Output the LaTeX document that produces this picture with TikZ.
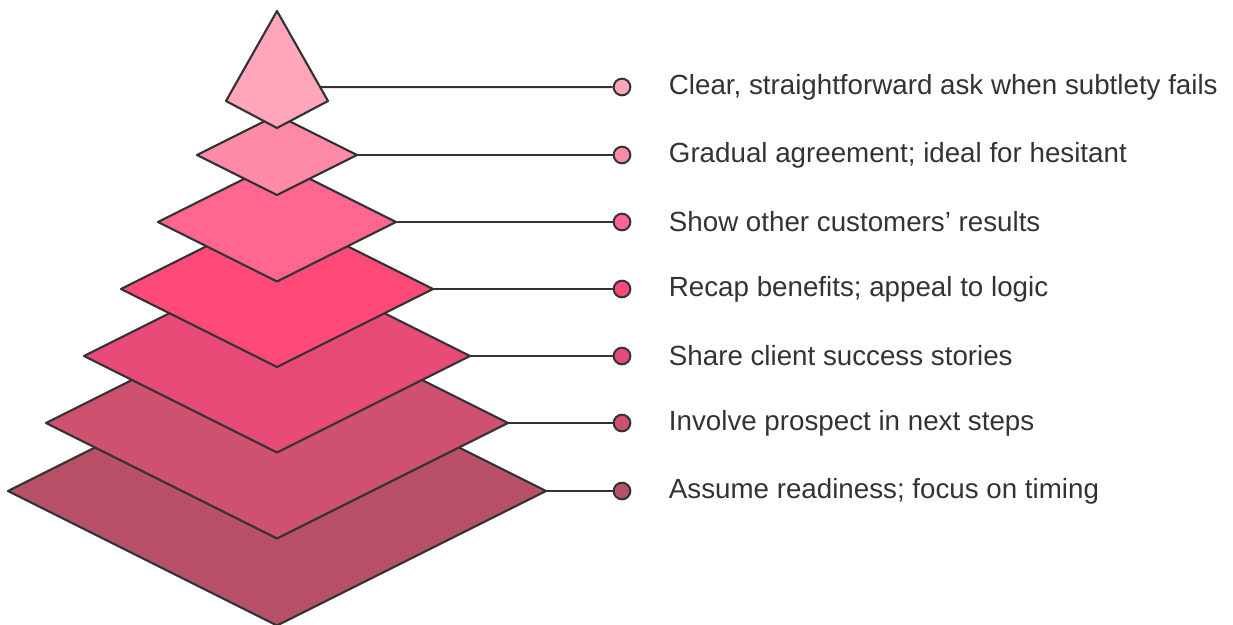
\documentclass[tikz,border=0pt]{standalone}
\usepackage{fontspec}
\setmainfont{Liberation Sans}
\usetikzlibrary{positioning,calc}

\definecolor{my_ink}{RGB}{51, 51, 51}
\definecolor{lay1}{HTML}{FFA6BB}
\definecolor{lay2}{HTML}{FF8AA8}
\definecolor{lay3}{HTML}{FF6690}
\definecolor{lay4}{HTML}{FF4A78}
\definecolor{lay5}{HTML}{E84A78}
\definecolor{lay6}{HTML}{D05070}
\definecolor{lay7}{HTML}{B85068}

\tikzset{
  layer/.style = {draw=my_ink, line width=1.6pt, line join=round},
  dot/.style = {circle, draw=my_ink, line width=1.5pt, minimum size=12.5pt, inner sep=0pt},
  link/.style = {draw=my_ink, line width=1.5pt},
  tip/.style = {anchor=west, inner sep=0pt, text=my_ink, font=\fontsize{20.8}{24}\selectfont}
}

\begin{document}
\begin{tikzpicture}[x=0.75pt, y=-0.75pt]
    \useasboundingbox (0,0) rectangle (1233,625);
    % widest slab first, so every slab above lies on top of it
    \foreach \n/\y/\w/\c in {7/491/269/lay7, 6/423/231/lay6, 5/356/193/lay5,
                             4/289/156/lay4, 3/222/119/lay3, 2/155/80/lay2}{
        \draw[layer, fill=\c] (277-\w,\y) -- (277,\y-\w/2) -- (277+\w,\y) -- (277,\y+\w/2) -- cycle;
        \coordinate (r\n) at (277+\w,\y);
        \node[dot, fill=\c] (d\n) at (622,\y) {};
        \draw[link] (r\n) -- (d\n);
    }
    % the tip of the pyramid
    \draw[layer, fill=lay1] (277,11) coordinate (apex) -- (328,101) coordinate (kr)
        -- (277,128) -- (226,101) -- cycle;
    \coordinate (r1) at ($(apex)!0.845!(kr)$);
    \node[dot, fill=lay1] (d1) at (622,87) {};
    \draw[link] (r1) -- (d1);

    \node[tip, right=28pt of d1] (t1) {Clear, straightforward ask when subtlety fails};
    \node[tip, right=28pt of d2] (t2) {Gradual agreement; ideal for hesitant};
    \node[tip, right=28pt of d3] (t3) {Show other customers’ results};
    \node[tip, right=28pt of d4] (t4) {Recap benefits; appeal to logic};
    \node[tip, right=28pt of d5] (t5) {Share client success stories};
    \node[tip, right=28pt of d6] (t6) {Involve prospect in next steps};
    \node[tip, right=28pt of d7] (t7) {Assume readiness; focus on timing};
\end{tikzpicture}
\end{document}
